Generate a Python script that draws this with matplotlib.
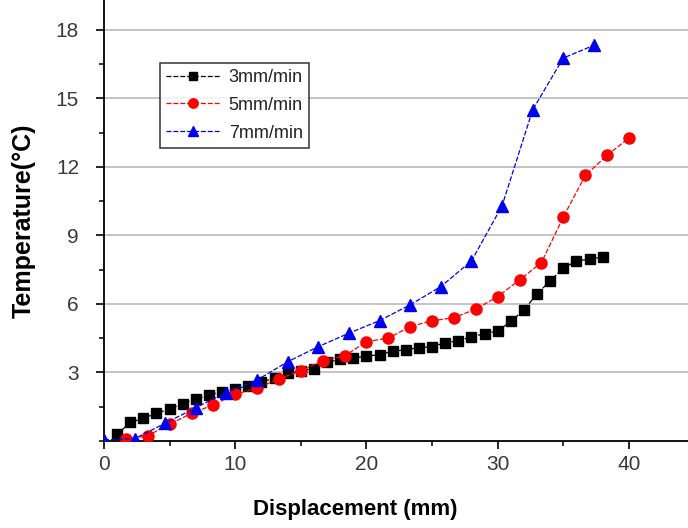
import matplotlib
matplotlib.use("Agg")
import matplotlib.pyplot as plt
from matplotlib.ticker import MultipleLocator
import numpy as np

# ---- data ----
x_3 = list(range(1, 39))
y_3 = [0.29, 0.81, 1.00, 1.21, 1.40, 1.63, 1.84, 2.01, 2.16, 2.28,
       2.41, 2.58, 2.75, 2.97, 3.08, 3.17, 3.45, 3.57, 3.64, 3.71,
       3.78, 3.93, 3.99, 4.09, 4.12, 4.31, 4.38, 4.57, 4.69, 4.82,
       5.23, 5.74, 6.44, 7.01, 7.56, 7.88, 7.96, 8.05]

x_5 = [1.67, 3.33, 5.0, 6.67, 8.33, 10.0, 11.67, 13.33, 15.0, 16.67,
       18.33, 20.0, 21.67, 23.33, 25.0, 26.67, 28.33, 30.0, 31.67, 33.33,
       35.0, 36.67, 38.33, 40.0]
y_5 = [0.07, 0.23, 0.74, 1.21, 1.58, 2.05, 2.31, 2.72, 3.07, 3.52,
       3.72, 4.35, 4.50, 5.01, 5.26, 5.40, 5.77, 6.32, 7.05, 7.81,
       9.80, 11.62, 12.50, 13.26]

x_7 = [0.0, 2.33, 4.67, 7.0, 9.33, 11.67, 14.0, 16.33, 18.67, 21.0,
       23.33, 25.67, 28.0, 30.33, 32.67, 35.0, 37.33]
y_7 = [0.05, 0.10, 0.78, 1.46, 2.12, 2.67, 3.47, 4.13, 4.72, 5.27,
       5.96, 6.76, 7.88, 10.29, 14.50, 16.76, 17.32]

labels = ["3mm/min", "5mm/min", "7mm/min"]
y_ticks = [3, 6, 9, 12, 15, 18]
x_ticks = [0, 10, 20, 30, 40]

# ---- figure ----
fig = plt.figure(figsize=(6.88, 5.28), dpi=100)
ax = fig.add_axes([104 / 688, 87 / 528, 584 / 688, 441 / 528])

ls = (0, (4, 1.5))
ax.plot(x_3, y_3, color="black", marker="s", markersize=7.5, linewidth=0.9,
        linestyle=ls, label=labels[0], zorder=3)
ax.plot(x_5, y_5, color="red", marker="o", markersize=8, linewidth=0.9,
        linestyle=ls, label=labels[1], zorder=4)
ax.plot(x_7, y_7, color="#0000ee", marker="^", markersize=9, linewidth=0.9,
        linestyle=ls, label=labels[2], zorder=5)

ax.set_xlim(0, 44.5)
ax.set_ylim(0, 19.3)
ax.set_xticks(x_ticks)
ax.set_yticks(y_ticks)
ax.xaxis.set_minor_locator(MultipleLocator(5))
ax.yaxis.set_minor_locator(MultipleLocator(1.5))

ax.grid(axis="y", which="major", color="#c4c4c4", linewidth=1.4, zorder=0)
ax.set_axisbelow(True)

for s in ["top", "right"]:
    ax.spines[s].set_visible(False)
for s in ["left", "bottom"]:
    ax.spines[s].set_linewidth(1.3)
    ax.spines[s].set_color("black")

tick_font = ["Liberation Sans Narrow", "Liberation Sans", "DejaVu Sans"]
ax.tick_params(which="major", direction="out", length=6, width=1.2,
               labelsize=15, labelcolor="#3a3a3a")
ax.tick_params(axis="y", which="major", pad=12)
ax.tick_params(axis="x", which="major", pad=4)
ax.tick_params(which="minor", direction="out", length=3.5, width=1.1)
for lab in ax.get_xticklabels() + ax.get_yticklabels():
    lab.set_family(tick_font)

ax.set_xlabel("Displacement (mm)", fontsize=16, fontweight="bold",
              family=["Liberation Sans", "DejaVu Sans"])
ax.set_ylabel("Temperature(°C)", fontsize=18, fontweight="bold",
              family=["Liberation Sans", "DejaVu Sans"])
ax.xaxis.set_label_coords(0.43, -0.132)
ax.yaxis.set_label_coords(-0.117, 0.5)

leg = ax.legend(loc="upper left", bbox_to_anchor=(0.096, 0.858),
                borderaxespad=0,
                prop={"family": ["Liberation Sans", "DejaVu Sans"], "size": 13},
                frameon=True, fancybox=False, shadow=False,
                handlelength=3.0, handletextpad=0.45, labelspacing=0.6,
                borderpad=0.35, markerscale=0.85)
leg.get_frame().set_edgecolor("black")
leg.get_frame().set_linewidth(1.1)
for t in leg.get_texts():
    t.set_color("#222222")

fig.savefig("out.png", dpi=100)
